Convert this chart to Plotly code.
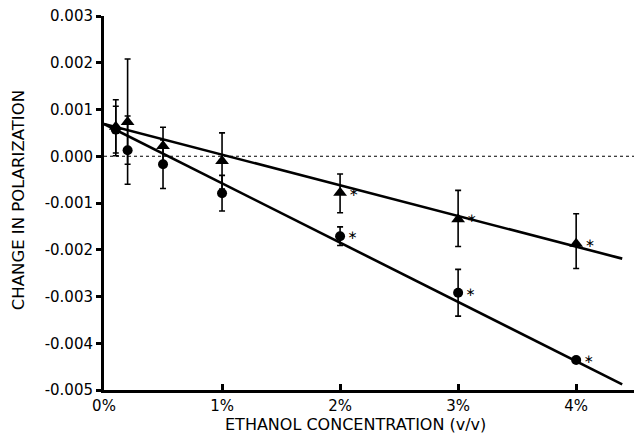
import plotly.graph_objects as go

# Data
conc = [0.1, 0.2, 0.5, 1.0, 2.0, 3.0, 4.0]  # ethanol concentration (% v/v)

tri_y = [0.00063, 0.00073, 0.00022, -0.00010, -0.00078, -0.00135, -0.00187]
tri_err_plus = [0.00058, 0.00135, 0.00040, 0.00060, 0.00040, 0.00062, 0.00064]
tri_err_minus = [0.00062, 0.00090, 0.00040, 0.00060, 0.00043, 0.00058, 0.00053]

circ_y = [0.00057, 0.00013, -0.00017, -0.00079, -0.00171, -0.00292, -0.00436]
circ_err = [0.00050, 0.00073, 0.00052, 0.00038, 0.00020, 0.00050, 0.00004]

signif = ["", "", "", "", "\u2217", "\u2217", "\u2217"]

fit_x = [0.0, 4.39]
fit_tri = [0.00069, -0.00219]
fit_circ = [0.00069, -0.00488]

y_ticks = [0.003, 0.002, 0.001, 0.0, -0.001, -0.002, -0.003, -0.004, -0.005]
y_ticktext = ["0.003", "0.002", "0.001", "0.000", "-0.001", "-0.002", "-0.003", "-0.004", "-0.005"]
x_ticks = [0, 1, 2, 3, 4]
x_ticktext = ["0%", "1%", "2%", "3%", "4%"]

FONT = "DejaVu Sans"

fig = go.Figure()

# zero reference line (dotted)
fig.add_trace(go.Scatter(x=[0, 4.49], y=[0, 0], mode="lines",
                         line=dict(color="black", width=1.2, dash="dot"),
                         hoverinfo="skip", showlegend=False))

# fitted lines
fig.add_trace(go.Scatter(x=fit_x, y=fit_tri, mode="lines",
                         line=dict(color="black", width=2.6), showlegend=False))
fig.add_trace(go.Scatter(x=fit_x, y=fit_circ, mode="lines",
                         line=dict(color="black", width=2.6), showlegend=False))

# triangles
fig.add_trace(go.Scatter(
    x=conc, y=tri_y, mode="markers+text",
    marker=dict(symbol="triangle-up", size=12, color="black"),
    error_y=dict(type="data", array=tri_err_plus, arrayminus=tri_err_minus,
                 color="black", thickness=1.6, width=3),
    text=signif, textposition="middle right",
    textfont=dict(family=FONT, size=12, color="black"),
    showlegend=False))

# circles
fig.add_trace(go.Scatter(
    x=conc, y=circ_y, mode="markers+text",
    marker=dict(symbol="circle", size=10, color="black"),
    error_y=dict(type="data", array=circ_err,
                 color="black", thickness=1.6, width=3),
    text=signif, textposition="middle right",
    textfont=dict(family=FONT, size=12, color="black"),
    showlegend=False))

fig.update_layout(
    width=634, height=444,
    margin=dict(l=104, r=0, t=16, b=54),
    paper_bgcolor="white", plot_bgcolor="white",
    font=dict(family=FONT, color="black"),
    xaxis=dict(range=[0, 4.49], tickvals=x_ticks, ticktext=x_ticktext,
               ticks="inside", ticklen=6, tickwidth=2.5, tickcolor="black",
               showline=True, linecolor="black", linewidth=3,
               showgrid=False, zeroline=False,
               tickfont=dict(family=FONT, size=15, color="black")),
    yaxis=dict(range=[-0.005, 0.003], tickvals=y_ticks, ticktext=y_ticktext,
               ticks="outside", ticklen=5, tickwidth=2.5, tickcolor="black",
               showline=True, linecolor="black", linewidth=3,
               showgrid=False, zeroline=False,
               tickfont=dict(family=FONT, size=15, color="black")),
    annotations=[
        dict(text="CHANGE IN POLARIZATION", xref="paper", yref="paper",
             x=-0.162, y=0.508, xanchor="center", yanchor="middle",
             textangle=-90, showarrow=False,
             font=dict(family=FONT, size=16.5, color="black")),
        dict(text="ETHANOL CONCENTRATION (v/v)", xref="paper", yref="paper",
             x=0.4736, y=-0.091, xanchor="center", yanchor="middle",
             showarrow=False,
             font=dict(family=FONT, size=16, color="black")),
    ],
)

fig.write_html("out.html")
